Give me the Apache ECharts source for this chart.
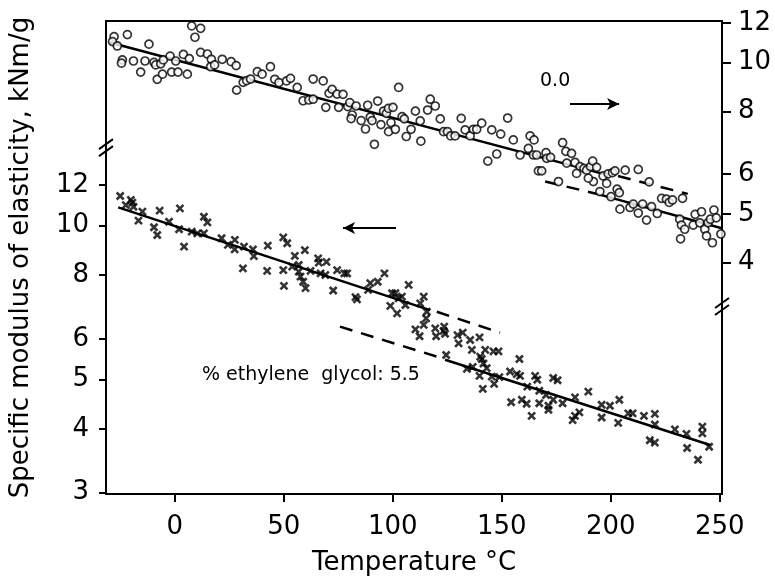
<!DOCTYPE html>
<html><head><meta charset="utf-8">
<script src="https://cdn.jsdelivr.net/npm/echarts@6/dist/echarts.min.js"></script>
<style>html,body{margin:0;padding:0;background:#fff}#c{width:775px;height:585px}</style>
</head><body><div id="c"></div>
<script>
// ---- tick labels ----
const xTicks = [0, 50, 100, 150, 200, 250];
const leftTicks = [3, 4, 5, 6, 8, 10, 12];
const rightTicks = [4, 5, 6, 8, 10, 12];

// ---- 0.0 % ethylene glycol (circles, right axis) : [temperature, modulus] ----
const circles00 = [
[-27.8,11.27],[-28.5,11.02],[-26.3,10.80],[-21.7,11.38],[-24.0,10.13],[-24.4,9.98],[-18.9,10.08],[-15.6,9.58],
[-13.6,10.08],[-11.8,10.89],[-9.5,10.02],[-8.7,9.90],[-8.0,9.27],[-6.4,9.95],[-5.6,9.49],[-5.2,10.13],
[-2.1,10.31],[-1.4,9.58],[0.5,10.08],[1.5,9.58],[4.0,10.39],[5.8,9.49],[6.7,10.19],[7.8,11.84],
[11.9,11.71],[9.3,11.24],[11.9,10.49],[15.0,10.41],[16.8,10.16],[16.5,9.82],[18.3,9.90],[21.8,10.16],
[25.9,10.05],[28.2,9.87],[28.4,8.82],[31.4,9.14],[33.0,9.21],[34.8,9.28],[37.9,9.60],[40.1,9.49],
[43.9,9.82],[45.9,9.27],[47.8,9.13],[51.3,9.20],[53.1,9.31],[56.2,8.93],[58.9,8.40],[61.5,8.43],
[63.5,8.46],[63.5,9.28],[68.1,9.20],[69.3,8.15],[70.8,8.69],[72.2,8.85],[74.5,8.66],[77.2,8.65],
[75.2,8.15],[79.4,8.18],[80.3,8.33],[83.2,8.20],[81.4,7.87],[80.9,7.74],[85.5,7.67],[87.5,7.38],
[88.5,8.23],[89.7,7.79],[90.5,7.67],[91.6,6.88],[93.1,8.39],[94.6,7.53],[95.8,8.01],[97.1,7.93],
[98.0,8.11],[100.1,8.15],[98.1,7.29],[99.2,7.60],[101.2,7.37],[102.7,8.93],[104.3,7.81],[105.3,7.73],
[106.2,7.13],[108.4,7.37],[110.4,8.01],[112.6,7.66],[112.9,6.98],[116.0,8.05],[117.2,8.46],
[119.5,8.20],[121.8,7.73],[123.3,7.29],[125.1,7.29],[126.6,7.15],[128.6,7.15],[131.4,7.75],[133.2,7.35],
[135.5,7.15],[137.0,7.37],[138.5,7.37],[140.8,7.58],[145.4,7.35],[149.5,7.21],[152.7,7.76],[155.3,7.02],
[163.0,7.15],[164.8,7.02],[162.2,6.75],[177.9,6.93],
[143.6,6.37],[147.7,6.58],[158.4,6.55],[164.5,6.55],[166.0,6.55],[170.3,6.62],[170.6,6.45],[172.4,6.48],
[179.8,6.31],[179.4,6.66],[182.0,6.60],[183.6,6.33],[185.9,6.21],[187.7,6.16],[184.3,6.02],[188.9,6.11],
[190.7,6.21],[191.7,6.37],[193.5,6.19],[192.0,5.80],[189.7,5.89],[196.5,5.95],[198.8,6.01],[198.1,5.75],
[200.8,6.04],[201.9,6.09],[206.6,6.11],[212.6,6.13],[217.6,5.79],[166.8,6.09],[168.3,6.09],[176.0,5.80],
[195.0,5.54],[200.1,5.41],[202.9,5.60],[203.9,5.51],[204.2,5.11],[208.8,5.15],[210.3,5.23],[212.6,5.02],
[214.6,5.23],[216.4,4.86],[218.7,5.17],[221.3,5.01],[223.3,5.37],[225.5,5.35],[226.8,5.27],[228.3,5.33],
[232.9,5.37],[231.6,4.88],[232.4,4.75],[233.9,4.66],[232.0,4.46],[237.8,4.75],[238.7,4.99],[241.6,5.05],
[240.8,4.80],[243.1,4.66],[243.9,4.52],[244.6,4.80],[245.7,4.88],[246.6,4.38],[247.3,5.09],[248.4,4.91],
[250.5,4.56]
];

// ---- 5.5 % ethylene glycol (crosses, left axis) : [temperature, modulus] ----
const crosses55 = [
[-25.0,11.42],[-22.4,10.96],[-20.1,11.22],[-19.4,11.08],[-18.9,10.88],[-14.8,10.64],[-16.6,10.22],[-9.5,9.92],
[-8.0,9.58],[-6.9,10.69],[-2.6,10.17],[2.4,10.80],[2.0,9.83],[4.3,9.09],[7.8,9.73],[10.4,9.65],
[13.4,10.40],[15.0,10.14],[13.4,9.65],[21.5,9.44],[24.4,9.16],[27.6,9.37],[27.5,8.98],[31.8,9.09],
[35.9,8.98],[36.3,8.71],[31.3,8.24],[42.7,9.13],[42.4,8.15],[49.8,9.48],[51.6,9.23],[49.8,8.18],
[50.1,7.62],[55.1,8.72],[53.9,8.31],[56.9,8.37],[59.7,8.95],[56.9,8.12],[57.7,7.94],[58.9,7.76],
[60.0,7.54],[62.3,8.15],[65.8,8.62],[66.1,8.46],[69.6,8.49],[66.9,8.06],[69.1,8.00],[72.7,7.46],
[74.5,8.18],[77.8,8.06],[79.1,8.06],[82.9,7.24],[83.6,7.17],[89.7,7.71],[88.7,7.48],[93.1,7.76],
[96.2,8.06],[99.7,7.37],[101.2,7.37],[102.7,7.20],[104.2,7.26],[107.3,7.65],[98.9,6.96],[102.0,6.73],
[105.8,6.99],[112.6,7.04],[114.2,7.26],[115.6,6.78],
[110.4,6.26],[112.3,6.07],[114.2,6.39],[115.3,6.58],
[119.5,6.29],[119.9,6.07],[123.6,6.34],[124.0,6.14],[123.3,6.22],[124.5,5.58],[129.7,6.10],[130.2,5.88],
[132.1,6.17],[135.5,5.97],[136.3,5.71],[139.8,6.04],[140.1,5.54],[140.8,5.48],[142.4,5.71],[141.6,5.37],
[143.1,5.26],[146.2,5.67],[148.5,5.67],[145.4,5.06],[146.5,4.90],[148.9,5.05],[141.3,4.79],[134.0,5.24],
[136.7,5.29],[139.8,5.08],[153.8,5.18],[156.9,5.12],[158.4,5.08],[158.1,5.48],[165.3,5.08],[166.3,4.99],
[161.7,4.84],[167.2,4.75],[170.3,4.66],[173.6,5.03],[175.6,4.98],[173.6,4.56],[154.3,4.51],[159.2,4.56],
[161.4,4.48],[167.2,4.49],[171.4,4.44],[171.4,4.36],[177.9,4.49],[163.7,4.24],[183.6,4.61],[185.6,4.31],
[183.6,4.24],[182.5,4.16],[189.7,4.73],[195.8,4.46],[199.6,4.44],[203.9,4.56],[195.8,4.21],[203.4,4.11],
[208.0,4.29],[210.0,4.29],[215.2,4.24],[220.2,4.28],[220.2,4.08],[217.9,3.80],[220.2,3.76],[229.4,3.99],
[234.7,3.91],[235.0,3.67],[240.0,3.48],[242.0,4.04],[242.0,3.92],[245.1,3.69]
];

// ---- fitted lines ----
const fit00SolidA = [[-29.7,10.97],[198.2,5.98]];
const fit00DashA  = [[203.3,5.95],[235.3,5.48]];
const fit00DashB  = [[169.9,5.80],[193.7,5.48]];
const fit00SolidB = [[193.7,5.48],[250.9,4.68]];
const fit55SolidA = [[-25.9,10.85],[117.1,6.83]];
const fit55DashA  = [[120.2,6.78],[149.2,6.17]];
const fit55DashB  = [[75.8,6.34],[122.5,5.50]];
const fit55SolidB = [[124.0,5.46],[245.6,3.72]];

// ---- annotation arrows ----
const arrow00 = [[181.3,8.28],[203.8,8.28]];
const arrow55 = [[101.5,9.89],[77.2,9.89]];

const FONT = 'DejaVu Sans';
const BLACK = '#000';
const chart = echarts.init(document.getElementById('c'), null, {renderer:'canvas'});

function lineSeries(data, yIdx, dashed) {
  return {
    type:'line', data:data, xAxisIndex:0, yAxisIndex:yIdx, symbol:'none', showSymbol:false,
    silent:true, z:3,
    lineStyle:{color:BLACK, width:2.5, type: dashed ? [13,9] : 'solid'}
  };
}
function arrowLine(a) {
  return {
    silent:true, symbol:['none','arrow'], symbolSize:[9,12], animation:false,
    label:{show:false}, lineStyle:{color:BLACK, width:2.2, type:'solid'},
    data:[[{coord:a[0]},{coord:a[1]}]]
  };
}
const lineAx = {show:true, onZero:false, lineStyle:{color:BLACK, width:2}};

const option = {
  animation:false,
  backgroundColor:'#fff',
  grid:{left:106, right:53, top:21, bottom:91, containLabel:false},
  xAxis:[
    {type:'value', min:-31.5, max:251, position:'bottom', axisLine:lineAx,
     axisTick:{show:true, inside:false, length:8, lineStyle:{color:BLACK, width:2}, customValues:xTicks},
     axisLabel:{customValues:xTicks, fontFamily:FONT, fontSize:26, color:BLACK, margin:20},
     splitLine:{show:false},
     name:'Temperature °C', nameLocation:'middle', nameGap:56,
     nameTextStyle:{fontFamily:FONT, fontSize:26, color:BLACK}},
    {type:'value', min:-31.5, max:251, position:'top', axisLine:lineAx,
     axisTick:{show:false}, axisLabel:{show:false}, splitLine:{show:false}}
  ],
  yAxis:[
    {type:'log', logBase:10, min:2.983, max:25.12, position:'left', axisLine:lineAx,
     axisTick:{show:true, inside:false, length:7, lineStyle:{color:BLACK, width:2}, customValues:leftTicks},
     axisLabel:{customValues:leftTicks, fontFamily:FONT, fontSize:26, color:BLACK, margin:17},
     splitLine:{show:false}, minorTick:{show:false},
     name:'Specific modulus of elasticity, kNm/g', nameLocation:'middle', nameGap:72, nameRotate:90,
     nameTextStyle:{fontFamily:FONT, fontSize:26, color:BLACK}},
    {type:'log', logBase:10, min:1.384, max:12.11, position:'right', axisLine:lineAx,
     axisTick:{show:true, inside:false, length:9, lineStyle:{color:BLACK, width:2}, customValues:rightTicks},
     axisLabel:{customValues:rightTicks, fontFamily:FONT, fontSize:26, color:BLACK, margin:16},
     splitLine:{show:false}, minorTick:{show:false}}
  ],
  series:[
    {type:'scatter', name:'0.0', data:circles00, xAxisIndex:0, yAxisIndex:1, symbol:'circle', symbolSize:8,
     itemStyle:{color:'#fff', borderColor:BLACK, borderWidth:1.7}, z:4, silent:true,
     markLine:arrowLine(arrow00)},
    {type:'scatter', name:'5.5', data:crosses55, xAxisIndex:0, yAxisIndex:0,
     symbol:'path://M0 0L10 10M10 0L0 10', symbolSize:7,
     itemStyle:{color:'none', borderColor:BLACK, borderWidth:2.6}, z:4, silent:true,
     markLine:arrowLine(arrow55)},
    lineSeries(fit00SolidA, 1, false),
    lineSeries(fit00DashA, 1, true),
    lineSeries(fit00DashB, 1, true),
    lineSeries(fit00SolidB, 1, false),
    lineSeries(fit55SolidA, 0, false),
    lineSeries(fit55DashA, 0, true),
    lineSeries(fit55DashB, 0, true),
    lineSeries(fit55SolidB, 0, false)
  ]
};
chart.setOption(option);

// axis break marks and text annotations
const pL = chart.convertToPixel({xAxisIndex:0, yAxisIndex:0}, [-31.5, 14.2]);
const pR = chart.convertToPixel({xAxisIndex:0, yAxisIndex:1}, [251, 3.27]);
function slashes(p) {
  const out = [];
  [-3.5, 3.5].forEach(function(o){
    out.push({type:'line', silent:true, z:100,
      shape:{x1:p[0]-7, y1:p[1]+5+o, x2:p[0]+7, y2:p[1]-5+o},
      style:{stroke:BLACK, lineWidth:2}});
  });
  return out;
}
chart.setOption({
  graphic:[].concat(slashes(pL), slashes(pR), [
    {type:'text', left:540, top:72, silent:true, z:100,
     style:{text:'0.0', font:'19px "DejaVu Sans"', fill:BLACK}},
    {type:'text', left:202, top:366, silent:true, z:100,
     style:{text:'% ethylene  glycol: 5.5', font:'19px "DejaVu Sans"', fill:BLACK}}
  ])
});
</script>
</body></html>
